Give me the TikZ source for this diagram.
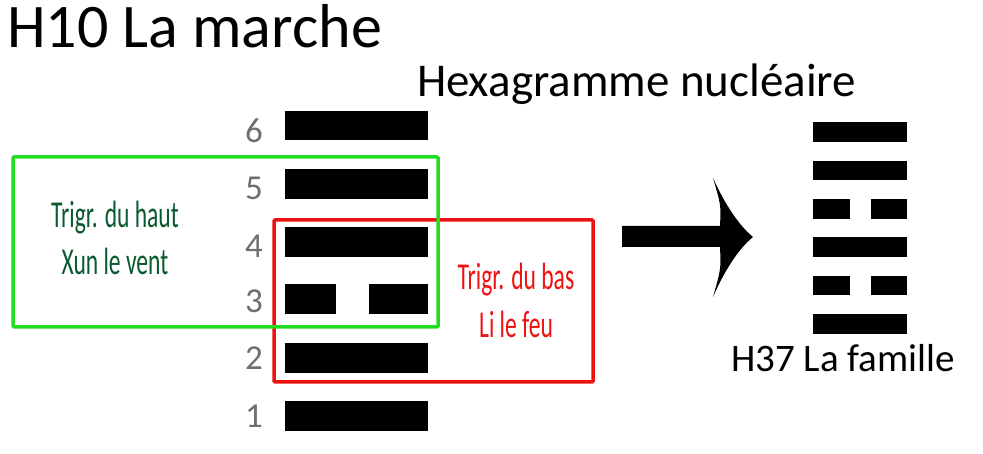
\documentclass[tikz,border=0pt]{standalone}
\usepackage{fontspec}
\setmainfont{Carlito}
\definecolor{boxgreen}{HTML}{22DD22}
\definecolor{textgreen}{HTML}{0B5A2E}
\definecolor{boxred}{HTML}{EE1111}
\definecolor{numgray}{HTML}{6E6E6E}
\begin{document}
\begin{tikzpicture}[x=1pt,y=-1pt,
  txt/.style={inner sep=0pt,outer sep=0pt},
  num/.style={txt,anchor=base,text=numgray,font=\fontsize{35}{35}\selectfont},
  cond/.style={txt,anchor=base,font=\fontsize{38}{38}\selectfont},
  frame/.style={line width=3.5pt,rounded corners=1pt},
  bar/.style={fill=black}]
\useasboundingbox (0,0) rectangle (983,454);
% titles
\node[txt,anchor=base west,font=\fontsize{62}{62}\selectfont] (title) at (7,48) {H10 La marche};
\node[txt,anchor=base west,font=\fontsize{47}{47}\selectfont] (nuc) at (417,97) {Hexagramme nucléaire};
\node[txt,anchor=base west,font=\fontsize{39}{39}\selectfont] (fam) at (731,372) {H37 La famille};
% frames
\draw[frame,draw=boxred] (274,220) rectangle (593,382);
\draw[frame,draw=boxgreen] (13,157) rectangle (438,327);
% trigram labels
\node[cond,text=textgreen] (haut1) at (115,228) {\scalebox{0.62}[1]{Trigr. du haut}};
\node[cond,text=textgreen] (haut2) at (115,275) {\scalebox{0.62}[1]{Xun le vent}};
\node[cond,text=boxred] (bas1) at (516,290) {\scalebox{0.62}[1]{Trigr. du bas}};
\node[cond,text=boxred] (bas2) at (516,338) {\scalebox{0.62}[1]{Li le feu}};
% line numbers
\node[num] (n6) at (254,143) {6};
\node[num] (n5) at (254,200) {5};
\node[num] (n4) at (254,258) {4};
\node[num] (n3) at (254,313) {3};
\node[num] (n2) at (254,370) {2};
\node[num] (n1) at (254,427) {1};
% H10 bars
\fill[bar] (285,111) rectangle (428,140);
\fill[bar] (285,169) rectangle (428,199);
\fill[bar] (285,227) rectangle (428,257);
\fill[bar] (285,284) rectangle (336,314);
\fill[bar] (369,284) rectangle (428,314);
\fill[bar] (285,343) rectangle (428,373);
\fill[bar] (285,401) rectangle (428,431);
% arrow
\fill (622,226) -- (720,226) .. controls (721,205) .. (713,178)
  .. controls (723,200) and (737,224) .. (753,237)
  .. controls (737,250) and (723,274) .. (713,297)
  .. controls (721,269) .. (720,247) -- (622,247) -- cycle;
% H37 bars
\fill[bar] (813,122) rectangle (907,142);
\fill[bar] (813,161) rectangle (907,180);
\fill[bar] (813,199) rectangle (850,219);
\fill[bar] (871,199) rectangle (907,219);
\fill[bar] (813,237) rectangle (907,257);
\fill[bar] (813,276) rectangle (850,295);
\fill[bar] (871,276) rectangle (907,295);
\fill[bar] (813,314) rectangle (907,334);
\end{tikzpicture}
\end{document}
